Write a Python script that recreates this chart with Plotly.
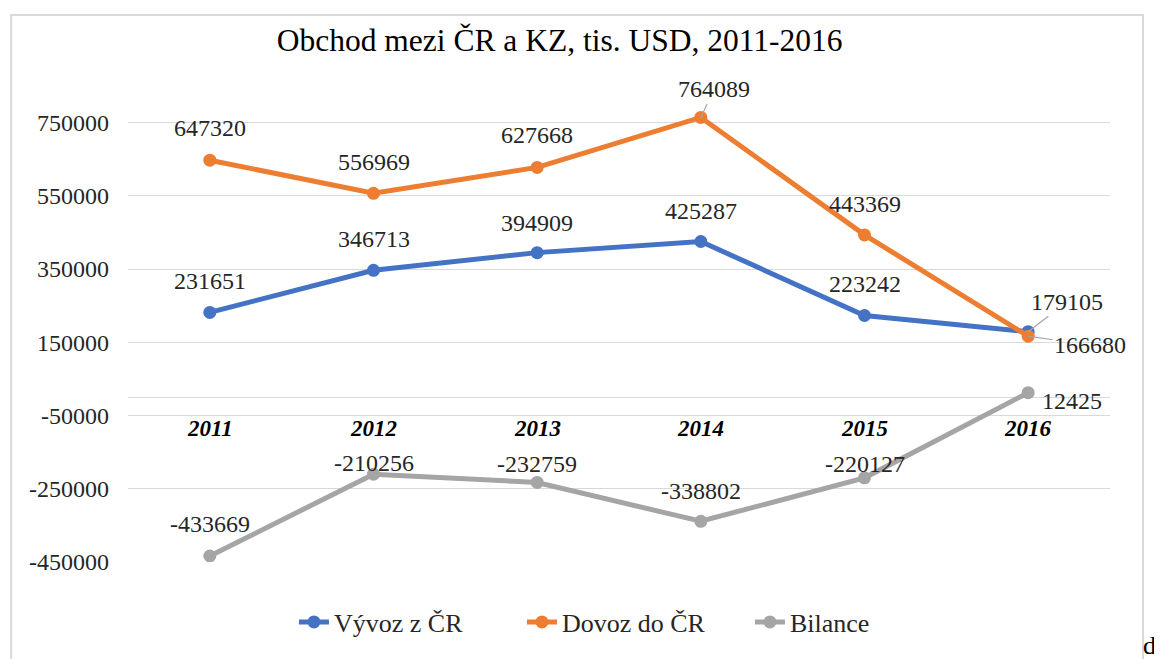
import plotly.graph_objects as go

# ---- data ----
years = ["2011", "2012", "2013", "2014", "2015", "2016"]
vyvoz = [231651, 346713, 394909, 425287, 223242, 179105]
dovoz = [647320, 556969, 627668, 764089, 443369, 166680]
bilance = [-433669, -210256, -232759, -338802, -220127, 12425]

series_names = ["Vývoz z ČR", "Dovoz do ČR", "Bilance"]
series_values = [vyvoz, dovoz, bilance]
colors = ["#4472C4", "#ED7D31", "#A5A5A5"]

tick_vals = [-450000, -250000, -50000, 150000, 350000, 550000, 750000]
tick_text = [str(v) for v in tick_vals]

title_text = "Obchod mezi ČR a KZ, tis. USD, 2011-2016"

# ---- label placement (styling only, pixel offsets) ----
# (xshift, yshift) plain labels; ("arrow", ax, ay) for leader-line labels
label_style = [
    [(0, 31), (0, 31), (0, 30), (0, 31), (0, 31), ("arrow", 39, -30)],
    [(0, 32), (0, 31), (0, 32), ("arrow", 13, -28), (0, 31), ("arrow", 62, 9)],
    [(0, 32), (0, 11), (0, 18), (0, 30), (0, 14), (44, -8)],
]

FONT = "Liberation Serif"
TXT = "#262626"

fig = go.Figure()
for name, vals, col in zip(series_names, series_values, colors):
    fig.add_trace(go.Scatter(
        x=years, y=vals, name=name, mode="lines+markers",
        line=dict(color=col, width=5),
        marker=dict(color=col, size=13),
        hoverinfo="skip",
    ))

annotations = []
for s, vals in enumerate(series_values):
    for i, v in enumerate(vals):
        st = label_style[s][i]
        if st[0] == "arrow":
            annotations.append(dict(
                x=i, y=v, xref="x", yref="y", text=str(v),
                showarrow=True, ax=st[1], ay=st[2], arrowhead=0,
                arrowwidth=1.2, arrowcolor="#A6A6A6", standoff=0,
                font=dict(family=FONT, size=24, color=TXT),
            ))
        else:
            annotations.append(dict(
                x=i, y=v, xref="x", yref="y", text=str(v),
                showarrow=False, xshift=st[0], yshift=st[1],
                font=dict(family=FONT, size=24, color=TXT),
            ))

# category labels next to the zero line
for i, yr in enumerate(years):
    annotations.append(dict(
        x=i, y=0, xref="x", yref="y", text="<b><i>" + yr + "</i></b>",
        showarrow=False, yshift=-31, yanchor="middle",
        font=dict(family=FONT, size=23, color="#000000"),
    ))

# stray document character at the bottom right
annotations.append(dict(
    x=1.0407, y=-0.175, xref="paper", yref="paper", text="d",
    showarrow=False, xanchor="center", yanchor="middle",
    font=dict(family=FONT, size=26, color="#000000"),
))

fig.update_layout(
    width=1154, height=651,
    margin=dict(l=120, r=52, t=78, b=97),
    paper_bgcolor="white", plot_bgcolor="white",
    title=dict(text=title_text, x=0.478, xref="container", xanchor="center",
               y=0.951, yref="container", yanchor="middle",
               font=dict(family=FONT, size=31.5, color="#000000")),
    xaxis=dict(type="category", range=[-0.5, 5.5], showticklabels=False,
               showgrid=False, zeroline=False, showline=False, ticks=""),
    yaxis=dict(range=[-450000, 850000], tickmode="array",
               tickvals=tick_vals, ticktext=tick_text,
               showgrid=True, gridcolor="#D9D9D9", gridwidth=1.3,
               zeroline=True, zerolinecolor="#D9D9D9", zerolinewidth=1.3,
               showline=False, ticks="", ticklabelstandoff=18,
               tickfont=dict(family=FONT, size=24, color=TXT)),
    legend=dict(orientation="h", x=0.169, xanchor="left", y=-0.126,
                yanchor="middle", font=dict(family=FONT, size=26, color=TXT),
                entrywidth=183, entrywidthmode="pixels", traceorder="normal"),
    annotations=annotations,
    shapes=[dict(type="rect", xref="paper", yref="paper",
                 x0=-0.119, x1=1.0336, y0=-0.30, y1=1.149,
                 line=dict(color="#D9D9D9", width=2), layer="below")],
    hovermode=False,
)

fig.write_html("out.html")
